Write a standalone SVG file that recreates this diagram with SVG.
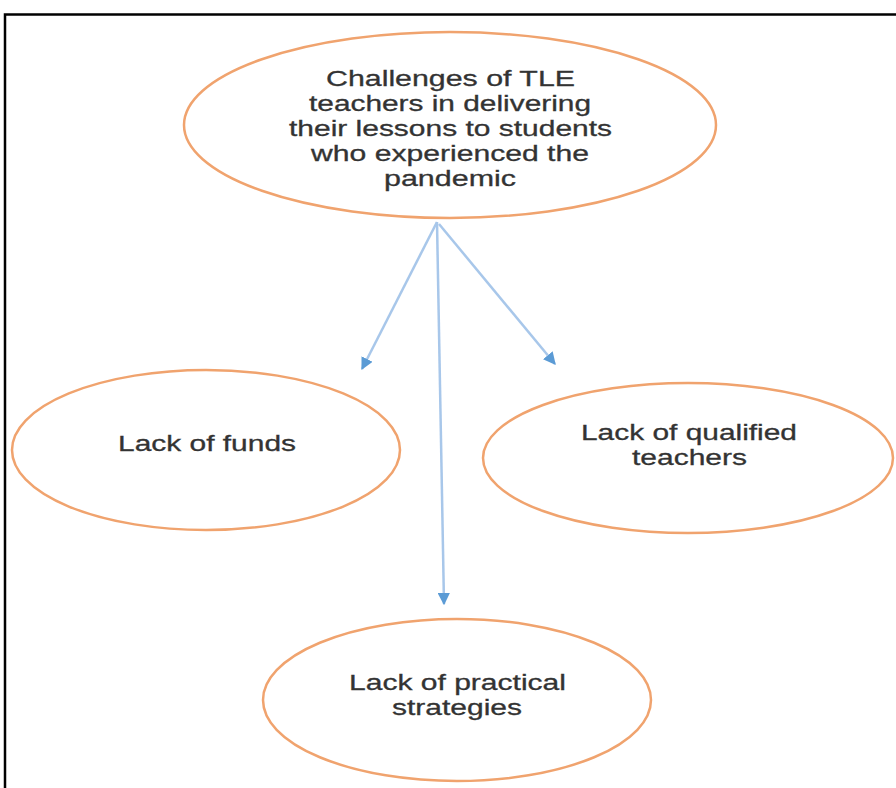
<svg xmlns="http://www.w3.org/2000/svg" width="896" height="788" viewBox="0 0 896 788">
<defs>
<style>
.node ellipse{fill:#fff;stroke:#f0a36e;stroke-width:2.5}
.node text{font-family:"Liberation Sans",Arial,sans-serif;font-size:22px;fill:#333;text-anchor:middle;stroke:#333;stroke-width:0.3}
.conn line{stroke:#a8c7ea;stroke-width:2.5}
</style>
<marker id="ah" viewBox="0 0 10 10" refX="9" refY="5" markerWidth="5" markerHeight="5" orient="auto" markerUnits="strokeWidth">
<path d="M0,0 L10,5 L0,10 z" fill="#5b9bd5"/>
</marker>
</defs>
<rect width="896" height="788" fill="#fff"/>
<path d="M5,800 L5,14.5 L900,14.5" fill="none" stroke="#000" stroke-width="2.5"/>
<g class="conn">
<line x1="437" y1="222" x2="362" y2="369" marker-end="url(#ah)"/>
<line x1="439" y1="224" x2="555" y2="364" marker-end="url(#ah)"/>
<line x1="437" y1="222" x2="444" y2="604" marker-end="url(#ah)"/>
</g>
<g id="top" class="node">
<ellipse cx="450" cy="125" rx="266" ry="93"/>
<text x="450.5" y="86" textLength="249" lengthAdjust="spacingAndGlyphs">Challenges of TLE</text>
<text x="450" y="111" textLength="282" lengthAdjust="spacingAndGlyphs">teachers in delivering</text>
<text x="450.5" y="136" textLength="323" lengthAdjust="spacingAndGlyphs">their lessons to students</text>
<text x="450" y="161" textLength="278" lengthAdjust="spacingAndGlyphs">who experienced the</text>
<text x="450" y="186" textLength="132" lengthAdjust="spacingAndGlyphs">pandemic</text>
</g>
<g id="funds" class="node">
<ellipse cx="206" cy="450" rx="194" ry="80"/>
<text x="207" y="451" textLength="178" lengthAdjust="spacingAndGlyphs">Lack of funds</text>
</g>
<g id="qualified" class="node">
<ellipse cx="688" cy="458" rx="205" ry="75"/>
<text x="689" y="440" textLength="216" lengthAdjust="spacingAndGlyphs">Lack of qualified</text>
<text x="689.5" y="465" textLength="115" lengthAdjust="spacingAndGlyphs">teachers</text>
</g>
<g id="practical" class="node">
<ellipse cx="457" cy="700" rx="194" ry="81"/>
<text x="457.5" y="690" textLength="217" lengthAdjust="spacingAndGlyphs">Lack of practical</text>
<text x="457" y="715" textLength="130" lengthAdjust="spacingAndGlyphs">strategies</text>
</g>
</svg>
